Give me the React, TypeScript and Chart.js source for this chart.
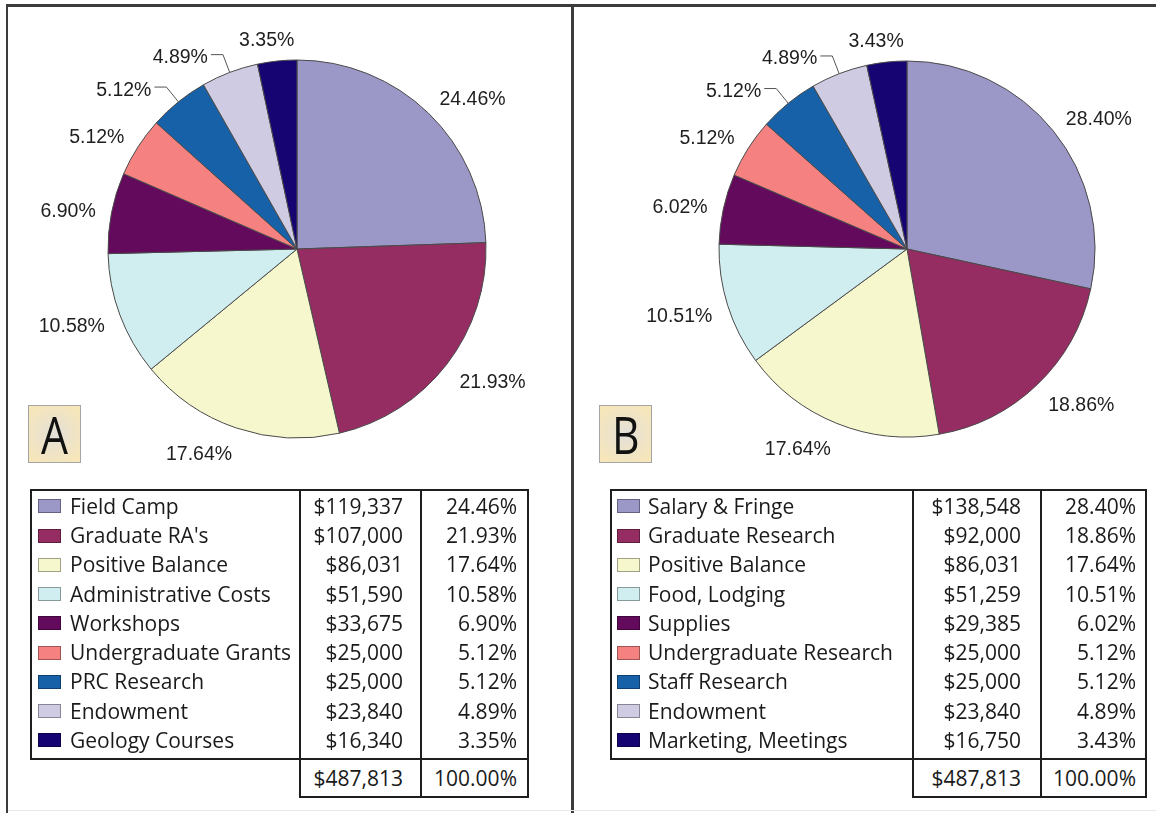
import React, { useEffect, useRef } from 'react';
import { Chart, registerables } from 'chart.js';

Chart.register(...registerables);

// ---------- DATA ----------
const categoriesA = [
  'Field Camp',
  "Graduate RA's",
  'Positive Balance',
  'Administrative Costs',
  'Workshops',
  'Undergraduate Grants',
  'PRC Research',
  'Endowment',
  'Geology Courses',
];
const amountsA = [119337, 107000, 86031, 51590, 33675, 25000, 25000, 23840, 16340];

const categoriesB = [
  'Salary & Fringe',
  'Graduate Research',
  'Positive Balance',
  'Food, Lodging',
  'Supplies',
  'Undergraduate Research',
  'Staff Research',
  'Endowment',
  'Marketing, Meetings',
];
const amountsB = [138548, 92000, 86031, 51259, 29385, 25000, 25000, 23840, 16750];

const sliceColors = [
  '#9b97c7',
  '#952d62',
  '#f6f7cc',
  '#d0edef',
  '#640a5d',
  '#f58181',
  '#1761a8',
  '#cfcbe3',
  '#160472',
];

const panelLetters = ['A', 'B'];

// ---------- helpers ----------
const sum = (a: number[]) => a.reduce((s, v) => s + v, 0);
const pct = (v: number, t: number) => ((v / t) * 100).toFixed(2) + '%';
const money = (v: number) => '$' + v.toLocaleString('en-US');
const clamp = (v: number) => Math.max(-1, Math.min(1, v));

const pieLabelPlugin = {
  id: 'pieLabels',
  afterDatasetsDraw(chart: any, _args: any, opts: any) {
    const ctx = chart.ctx;
    const meta = chart.getDatasetMeta(0);
    const texts: string[] = opts.texts || [];
    const leaders: number[] = opts.leaders || [];
    const capHalf = opts.capHeight / 2;
    ctx.save();
    ctx.font = opts.font;
    ctx.fillStyle = opts.color;
    ctx.textBaseline = 'alphabetic';
    meta.data.forEach((arc: any, i: number) => {
      const p = arc.getProps(['x', 'y', 'startAngle', 'endAngle', 'outerRadius'], true);
      const mid = (p.startAngle + p.endAngle) / 2;
      const dx = Math.cos(mid);
      const dy = Math.sin(mid);
      const text = texts[i];
      const w = ctx.measureText(text).width;
      if (leaders.includes(i)) {
        const ax = p.x + dx * p.outerRadius;
        const ay = p.y + dy * p.outerRadius;
        const ex = p.x + dx * (p.outerRadius + opts.leaderLen);
        const ey = p.y + dy * (p.outerRadius + opts.leaderLen);
        const hx = ex - opts.leaderArm;
        ctx.beginPath();
        ctx.strokeStyle = opts.leaderColor;
        ctx.lineWidth = 1;
        ctx.moveTo(ax, ay);
        ctx.lineTo(ex, ey);
        ctx.lineTo(hx, ey);
        ctx.stroke();
        ctx.textAlign = 'right';
        ctx.fillText(text, hx - 3, ey + 1.5 + capHalf);
      } else {
        const px = p.x + dx * (p.outerRadius + opts.gap);
        const py = p.y + dy * (p.outerRadius + opts.gap);
        const cx = px + clamp(dx * 3) * (w / 2);
        const cy = py + dy * (opts.boxH / 2) + opts.shiftY;
        ctx.textAlign = 'center';
        ctx.fillText(text, cx, cy + capHalf);
      }
    });
    ctx.restore();
  },
};

type PieProps = {
  values: number[];
  labels: string[];
  cx: number;
  cy: number;
  radius: number;
};

function PieCanvas({ values, labels, cx, cy, radius }: PieProps) {
  const ref = useRef<HTMLCanvasElement | null>(null);
  const W = 540;
  const H = 470;
  useEffect(() => {
    const total = sum(values);
    const texts = values.map((v) => pct(v, total));
    const chart = new Chart(ref.current as HTMLCanvasElement, {
      type: 'pie',
      data: {
        labels,
        datasets: [
          {
            data: values,
            backgroundColor: sliceColors,
            borderColor: '#4a4a4a',
            borderWidth: 1,
            radius,
          } as any,
        ],
      },
      options: {
        responsive: false,
        animation: false,
        devicePixelRatio: 1,
        events: [],
        layout: { padding: 0 },
        plugins: {
          legend: { display: false },
          tooltip: { enabled: false },
          pieLabels: {
            texts,
            font: '19.5px "Liberation Sans", Arial, sans-serif',
            color: '#1e1e1e',
            capHeight: 14,
            gap: 16,
            boxH: 16,
            shiftY: 2,
            leaders: [6, 7],
            leaderLen: 19,
            leaderArm: 12,
            leaderColor: '#555',
          },
        } as any,
      },
      plugins: [pieLabelPlugin],
    });
    return () => chart.destroy();
  }, []);
  return (
    <canvas
      ref={ref}
      width={W}
      height={H}
      style={{ position: 'absolute', left: cx - W / 2, top: cy - H / 2, width: W, height: H }}
    />
  );
}

type TableGeom = {
  left: number;
  d1: number;
  d2: number;
  right: number;
  swatchLeft: number;
  textLeft: number;
  valueRight: number;
  pctRight: number;
};

const TOP = 489;
const MAIN_BOTTOM = 760;
const TOTAL_BOTTOM = 798;
const ROW0 = 491.75;
const ROW_H = 29.25;
const TOTAL_ROW = 764.25;
const LINE = '#1e1e1e';
const tableFont: React.CSSProperties = {
  position: 'absolute',
  fontFamily: '"Open Sans", sans-serif',
  fontSize: 21,
  lineHeight: ROW_H + 'px',
  color: '#1a1a1a',
  whiteSpace: 'nowrap',
};

function DataTable({ cats, values, g }: { cats: string[]; values: number[]; g: TableGeom }) {
  const total = sum(values);
  const els: React.ReactNode[] = [];
  els.push(
    <div key="main" style={{ position: 'absolute', boxSizing: 'border-box', left: g.left, top: TOP, width: g.right - g.left, height: MAIN_BOTTOM - TOP, border: `2px solid ${LINE}` }} />,
    <div key="tot" style={{ position: 'absolute', boxSizing: 'border-box', left: g.d1, top: MAIN_BOTTOM - 2, width: g.right - g.d1, height: TOTAL_BOTTOM - MAIN_BOTTOM + 2, border: `2px solid ${LINE}` }} />,
    <div key="v1" style={{ position: 'absolute', left: g.d1, top: TOP, width: 2, height: MAIN_BOTTOM - TOP, background: LINE }} />,
    <div key="v2" style={{ position: 'absolute', left: g.d2, top: TOP, width: 2, height: TOTAL_BOTTOM - TOP, background: LINE }} />
  );
  cats.forEach((c, i) => {
    const y = ROW0 + i * ROW_H;
    els.push(
      <div key={'sw' + i} style={{ position: 'absolute', boxSizing: 'border-box', left: g.swatchLeft, top: y + 7.5, width: 23, height: 14, background: sliceColors[i], border: '1px solid rgba(0,0,0,0.35)' }} />,
      <div key={'c' + i} style={{ ...tableFont, left: g.textLeft, top: y }}>{c}</div>,
      <div key={'v' + i} style={{ ...tableFont, left: g.d1, width: g.valueRight - g.d1, textAlign: 'right', top: y }}>{money(values[i])}</div>,
      <div key={'p' + i} style={{ ...tableFont, left: g.d2, width: g.pctRight - g.d2, textAlign: 'right', top: y }}>{pct(values[i], total)}</div>
    );
  });
  els.push(
    <div key="tv" style={{ ...tableFont, left: g.d1, width: g.valueRight - g.d1, textAlign: 'right', top: TOTAL_ROW }}>{money(total)}</div>,
    <div key="tp" style={{ ...tableFont, left: g.d2, width: g.pctRight - g.d2, textAlign: 'right', top: TOTAL_ROW }}>{(100).toFixed(2) + '%'}</div>
  );
  return <>{els}</>;
}

function LetterBox({ letter, left, top }: { letter: string; left: number; top: number }) {
  return (
    <div
      style={{
        position: 'absolute',
        boxSizing: 'border-box',
        left,
        top,
        width: 53,
        height: 58,
        border: '1px solid #a4a4a4',
        background: 'radial-gradient(circle at 50% 50%, #e3e0da 0%, #eee3c8 45%, #f6e6ba 85%)',
        display: 'flex',
        alignItems: 'center',
        justifyContent: 'center',
        fontFamily: '"Open Sans", sans-serif',
        fontSize: 52,
        lineHeight: '52px',
        color: '#111',
      }}
    >
      <span style={{ display: 'inline-block', transform: 'scaleX(0.82)' }}>{letter}</span>
    </div>
  );
}

export default function App() {
  return (
    <div style={{ position: 'relative', width: 1156, height: 813, background: '#fff', overflow: 'hidden' }}>
      <style>{'html,body{margin:0;padding:0;background:#fff;}'}</style>
      {/* frame */}
      <div style={{ position: 'absolute', left: 6, top: 4, width: 1150, height: 3, background: '#3c3c3c' }} />
      <div style={{ position: 'absolute', left: 6, top: 4, width: 2, height: 809, background: '#3c3c3c' }} />
      <div style={{ position: 'absolute', left: 571, top: 4, width: 3, height: 809, background: '#3c3c3c' }} />
      <div style={{ position: 'absolute', left: 8, top: 810, width: 1148, height: 1, background: '#e8e8e8' }} />

      <PieCanvas values={amountsA} labels={categoriesA} cx={297} cy={249} radius={189} />
      <PieCanvas values={amountsB} labels={categoriesB} cx={907} cy={249} radius={188} />

      <LetterBox letter={panelLetters[0]} left={28} top={405} />
      <LetterBox letter={panelLetters[1]} left={599} top={405} />

      <DataTable
        cats={categoriesA}
        values={amountsA}
        g={{ left: 30, d1: 299, d2: 420, right: 529, swatchLeft: 38, textLeft: 70, valueRight: 403, pctRight: 517 }}
      />
      <DataTable
        cats={categoriesB}
        values={amountsB}
        g={{ left: 610, d1: 912, d2: 1040, right: 1147, swatchLeft: 617, textLeft: 648, valueRight: 1021, pctRight: 1136 }}
      />
    </div>
  );
}
